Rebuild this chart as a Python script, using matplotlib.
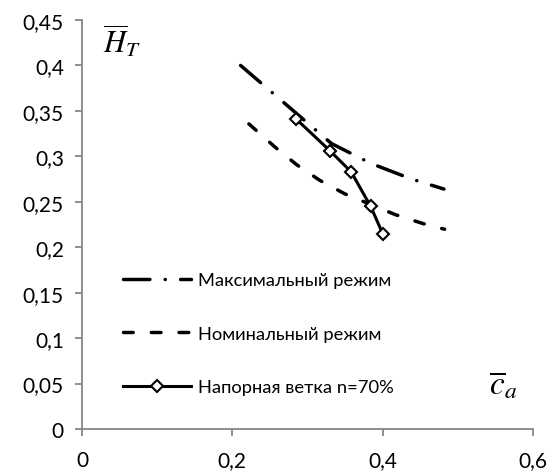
import matplotlib.pyplot as plt
import matplotlib as mpl

mpl.rcParams['lines.scale_dashes'] = False
mpl.rcParams['mathtext.fontset'] = 'stix'

# Максимальный режим
x_max = [0.211, 0.332, 0.385, 0.4385, 0.4815]
y_max = [0.400, 0.314, 0.292, 0.275, 0.264]

# Номинальный режим
x_nom = [0.222, 0.2565, 0.2857, 0.3163, 0.3495, 0.4173, 0.4545, 0.4824]
y_nom = [0.3357, 0.3104, 0.2907, 0.2736, 0.2588, 0.2357, 0.2258, 0.2198]

# Напорная ветка n=70%
x_nap = [0.285, 0.330, 0.358, 0.384, 0.400]
y_nap = [0.341, 0.306, 0.283, 0.245, 0.215]

xticks = [0, 0.2, 0.4, 0.6]
xlabels = ['0', '0,2', '0,4', '0,6']
yticks = [0, 0.05, 0.1, 0.15, 0.2, 0.25, 0.3, 0.35, 0.4, 0.45]
ylabels = ['0', '0,05', '0,1', '0,15', '0,2', '0,25', '0,3', '0,35', '0,4', '0,45']

fig = plt.figure(figsize=(5.52, 4.77), dpi=100)
ax = fig.add_axes([82/552, 1 - 430/477, (533 - 82)/552, (430 - 21)/477])

ax.plot(x_max, y_max, color='black', lw=2.5, dash_capstyle='round',
        dashes=(19, 11, 0.1, 11), label='Максимальный режим')
ax.plot(x_nom, y_nom, color='black', lw=2.5, dash_capstyle='round',
        dashes=(7, 13), label='Номинальный режим')
ax.plot(x_nap, y_nap, color='black', lw=2.2, marker='D', markersize=6,
        markerfacecolor='white', markeredgecolor='black', markeredgewidth=1.5,
        label='Напорная ветка n=70%')

ax.set_xlim(0, 0.6)
ax.set_ylim(0, 0.45)
ax.set_xticks(xticks)
ax.set_xticklabels(xlabels)
ax.set_yticks(yticks)
ax.set_yticklabels(ylabels)

for s in ['top', 'right']:
    ax.spines[s].set_visible(False)
for s in ['left', 'bottom']:
    ax.spines[s].set_color('#868686')
    ax.spines[s].set_linewidth(1.3)
ax.tick_params(direction='out', length=5, width=1.3, color='#868686',
               labelsize=15, pad=8)
ax.tick_params(axis='x', pad=10)
for lbl in ax.get_xticklabels() + ax.get_yticklabels():
    lbl.set_fontfamily('Lato')

# подписи осей
ax.text(0.028, 0.428, r'$\overline{H}_{T}$', fontsize=22, ha='left', va='center')
ax.text(0.541, 0.05, r'$\overline{c}_{a}$', fontsize=24, ha='left', va='center')

leg = ax.legend(loc='upper left', bbox_to_anchor=(123/552, 1 - 273/477),
                bbox_transform=fig.transFigure, frameon=False,
                handlelength=3.7, handletextpad=0.4, labelspacing=2.05,
                borderpad=0, borderaxespad=0, prop={'family': 'Lato', 'size': 13.2})

fig.savefig('out.png', dpi=100)
